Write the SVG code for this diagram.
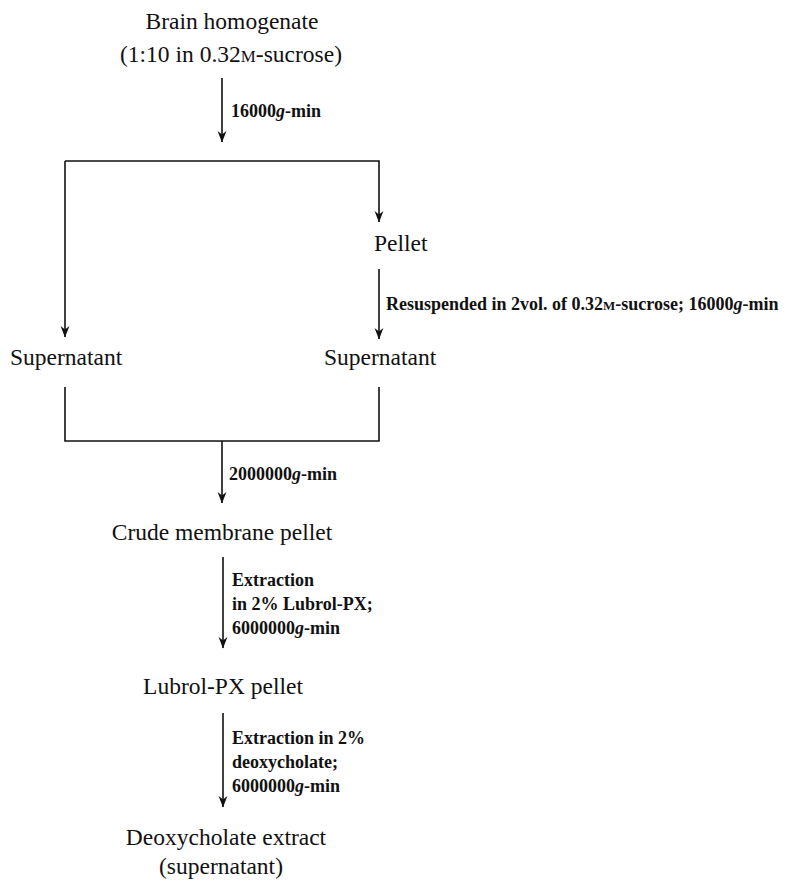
<svg xmlns="http://www.w3.org/2000/svg" width="796" height="881" viewBox="0 0 796 881">
<style>
.n{font-family:"Liberation Serif","Times New Roman",serif;font-size:23.5px;fill:#111}
.l{font-family:"Liberation Serif","Times New Roman",serif;font-size:18px;font-weight:bold;fill:#111}
.sc{font-size:0.72em}
.ln{stroke:#111;stroke-width:1.6;fill:none}
</style>
<defs>
<marker id="ah" markerWidth="12" markerHeight="10" refX="11" refY="5" orient="auto" markerUnits="userSpaceOnUse" viewBox="0 0 12 10">
<path d="M0,0.6 L11.5,5 L0,9.4 L3.5,5 Z" fill="#111"/>
</marker>
</defs>
<rect width="796" height="881" fill="#fff"/>
<g id="connectors">
<line class="ln" x1="222" y1="78" x2="222" y2="142" marker-end="url(#ah)"/>
<polyline class="ln" points="65,161 379,161 379,222" marker-end="url(#ah)"/>
<line class="ln" x1="65" y1="161" x2="65" y2="337" marker-end="url(#ah)"/>
<line class="ln" x1="379" y1="269" x2="379" y2="339" marker-end="url(#ah)"/>
<polyline class="ln" points="65,387 65,441 379,441 379,387"/>
<line class="ln" x1="222" y1="441" x2="222" y2="503" marker-end="url(#ah)"/>
<line class="ln" x1="223" y1="557" x2="223" y2="648" marker-end="url(#ah)"/>
<line class="ln" x1="223" y1="713" x2="223" y2="807" marker-end="url(#ah)"/>
</g>
<g id="brain">
<text class="n" x="232" y="29" text-anchor="middle">Brain homogenate</text>
<text class="n" x="231" y="62" text-anchor="middle">(1:10 in 0.32<tspan class="sc">M</tspan>-sucrose)</text>
</g>
<g id="lbl1"><text class="l" x="231" y="117">16000<tspan font-style="italic">g</tspan>-min</text></g>
<g id="pellet"><text class="n" x="374" y="251">Pellet</text></g>
<g id="lbl2"><text class="l" x="386" y="310">Resuspended in 2vol. of 0.32<tspan class="sc">M</tspan>-sucrose; 16000<tspan font-style="italic">g</tspan>-min</text></g>
<g id="sup-left"><text class="n" x="10" y="365">Supernatant</text></g>
<g id="sup-right"><text class="n" x="324" y="365">Supernatant</text></g>
<g id="lbl3"><text class="l" x="229" y="480">2000000<tspan font-style="italic">g</tspan>-min</text></g>
<g id="crude"><text class="n" x="222" y="540" text-anchor="middle">Crude membrane pellet</text></g>
<g id="lbl4">
<text class="l" x="232" y="586">Extraction</text>
<text class="l" x="232" y="610">in 2% Lubrol-PX;</text>
<text class="l" x="232" y="634">6000000<tspan font-style="italic">g</tspan>-min</text>
</g>
<g id="lubrol"><text class="n" x="223" y="694" text-anchor="middle">Lubrol-PX pellet</text></g>
<g id="lbl5">
<text class="l" x="232" y="744">Extraction in 2%</text>
<text class="l" x="232" y="768">deoxycholate;</text>
<text class="l" x="232" y="792">6000000<tspan font-style="italic">g</tspan>-min</text>
</g>
<g id="deoxy">
<text class="n" x="226" y="845" text-anchor="middle">Deoxycholate extract</text>
<text class="n" x="221" y="874" text-anchor="middle">(supernatant)</text>
</g>
</svg>
